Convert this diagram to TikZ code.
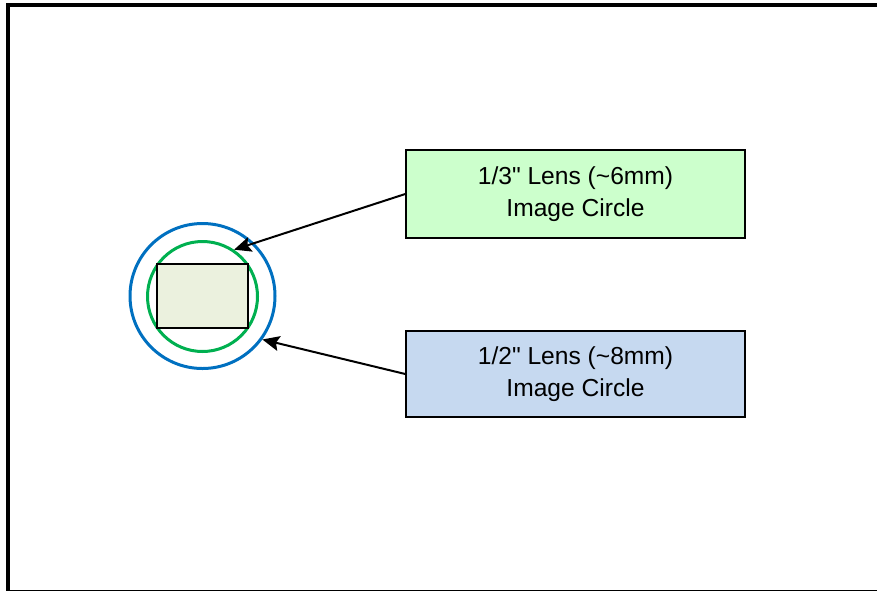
\documentclass[tikz,border=0pt]{standalone}
\usepackage{fontspec}
\setmainfont{Liberation Sans}
\newfontfamily\labelfont{Liberation Sans}
\usetikzlibrary{arrows.meta}
\definecolor{lensblue}{HTML}{0070C0}
\definecolor{lensgreen}{HTML}{00B050}
\definecolor{sensorfill}{HTML}{EBF1DE}
\definecolor{greenbox}{HTML}{CCFFCC}
\definecolor{bluebox}{HTML}{C6D9F0}
\begin{document}
\begin{tikzpicture}[x=1pt,y=-1pt,
  labelbox/.style={draw=black,line width=1.5pt,minimum width=339pt,minimum height=88pt,inner sep=0pt,align=center,font=\labelfont\fontsize{24.6}{32}\selectfont},
  pointer/.style={draw=black,line width=2pt,-{Stealth[length=17pt,width=15pt,inset=3pt]}}]
\useasboundingbox (0,0) rectangle (877,590);
\draw[line width=4pt] (8,5) rectangle (881,592);
\node[circle,draw=lensblue,line width=3pt,minimum size=145pt,inner sep=0pt] (outer) at (202.5,296) {};
\node[circle,draw=lensgreen,line width=3pt,minimum size=110pt,inner sep=0pt] (inner) at (202.5,296.5) {};
\node[draw=black,line width=2pt,fill=sensorfill,minimum width=91pt,minimum height=64pt,inner sep=0pt] (sensor) at (202.5,296) {};
\node[labelbox,fill=greenbox] (third) at (575.5,194) {1/3" Lens (\textasciitilde 6mm)\\Image Circle};
\node[labelbox,fill=bluebox,minimum height=86pt] (half) at (575.5,374) {1/2" Lens (\textasciitilde 8mm)\\Image Circle};
\draw[pointer] (third.west) -- (inner.56);
\draw[pointer] (half.west) -- (outer.-36);
\end{tikzpicture}
\end{document}
